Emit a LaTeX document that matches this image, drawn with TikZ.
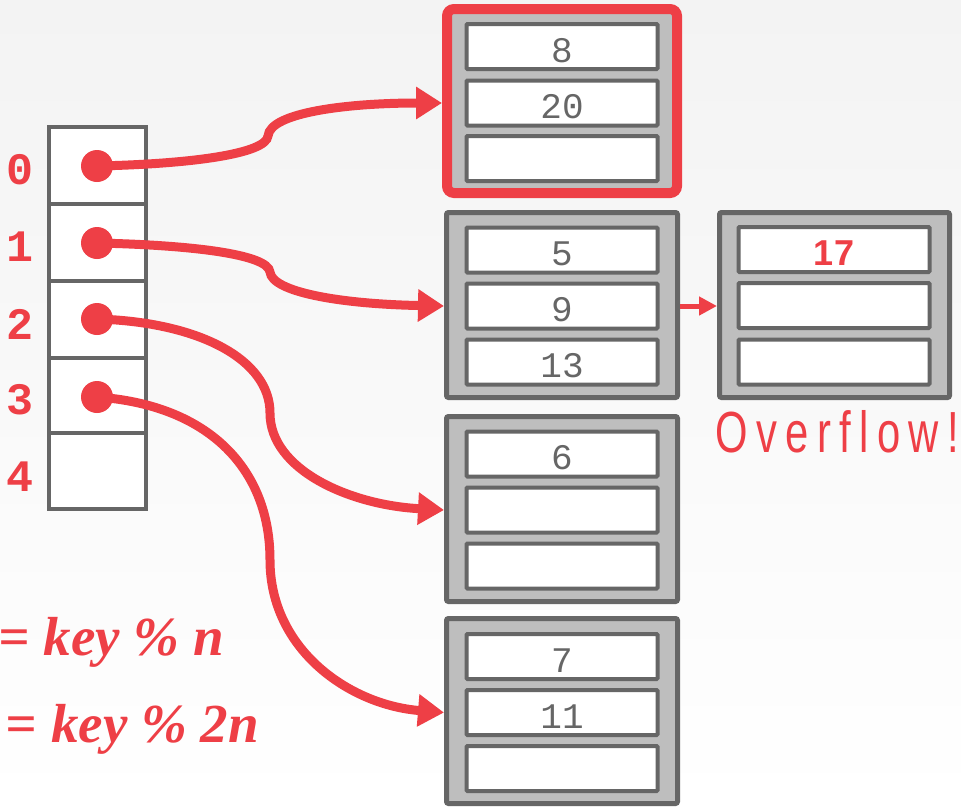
\documentclass[tikz,border=0pt]{standalone}
\usepackage{fontspec}
\usetikzlibrary{arrows.meta}
\setmainfont{Liberation Sans}
\newfontfamily\monofont{Liberation Mono}
\newfontfamily\ovfont{Liberation Sans}[FakeStretch=0.72,LetterSpace=14.5]
\newfontfamily\formfont{Liberation Serif}
\definecolor{myred}{HTML}{EE3F46}
\definecolor{bordergray}{HTML}{666666}
\definecolor{fillgray}{HTML}{BEBEBE}
\definecolor{bgtop}{HTML}{F3F3F3}
\begin{document}
\begin{tikzpicture}[x=1pt,y=-1pt,
  cell/.style={draw=bordergray,line width=4pt,fill=white,minimum width=97pt,inner sep=0pt},
  dot/.style={circle,fill=myred,minimum size=32pt,inner sep=0pt},
  idx/.style={text=myred,font=\monofont\bfseries\fontsize{45}{45}\selectfont,inner sep=0pt},
  bucket/.style={draw=bordergray,line width=5pt,fill=fillgray,minimum width=231pt,minimum height=185pt,rounded corners=2pt,inner sep=0pt},
  redbucket/.style={draw=myred,line width=10pt,fill=fillgray,minimum width=230pt,minimum height=184pt,rounded corners=7pt,inner sep=0pt},
  slot/.style={draw=bordergray,line width=4pt,fill=white,minimum width=191pt,minimum height=45pt,inner sep=0pt,rounded corners=1pt,
    text=bordergray,font=\monofont\fontsize{36}{36}\selectfont,text height=31pt,text depth=0pt},
  arr/.style={draw=myred,line width=9pt,-{Triangle[length=26pt,width=31pt]}},
  smallarr/.style={draw=myred,line width=5pt,-{Triangle[length=18pt,width=18pt]}},
  form/.style={text=myred,font=\formfont\bfseries\itshape\fontsize{55}{55}\selectfont,inner sep=0pt,anchor=base east},
  ovtext/.style={text=myred,font=\ovfont\fontsize{58}{58}\selectfont,inner sep=0pt,anchor=base west}
]
\shade[top color=bgtop,bottom color=white] (0,0) rectangle (961,806);
\useasboundingbox (0,0) rectangle (961,806);
\clip (0,0) rectangle (961,806);

% hash table cells
\node[cell,minimum height=77pt] (c0) at (97.5,165.5) {};
\node[cell,minimum height=77pt] (c1) at (97.5,242.5) {};
\node[cell,minimum height=77pt] (c2) at (97.5,319.5) {};
\node[cell,minimum height=75pt] (c3) at (97.5,395.5) {};
\node[cell,minimum height=76pt] (c4) at (97.5,471) {};

% index labels
\node[idx] (l0) at (20,170) {0};
\node[idx] (l1) at (20,247) {1};
\node[idx] (l2) at (20,324) {2};
\node[idx] (l3) at (20,400) {3};
\node[idx] (l4) at (20,477) {4};

% dots
\node[dot] (d0) at (97,166) {};
\node[dot] (d1) at (97,243) {};
\node[dot] (d2) at (97,319) {};
\node[dot] (d3) at (97,397) {};

% buckets
\node[redbucket] (b0) at (562,101) {};
\node[slot] (s00) at (562,46.5) {8};
\node[slot] (s01) at (562,103) {20};
\node[slot] (s02) at (562,158.5) {};

\node[bucket] (b1) at (562,305) {};
\node[slot] (s10) at (562,250) {5};
\node[slot] (s11) at (562,306) {9};
\node[slot] (s12) at (562,362) {13};

\node[bucket] (b2) at (562,509) {};
\node[slot] (s20) at (562,454) {6};
\node[slot] (s21) at (562,510) {};
\node[slot] (s22) at (562,566) {};

\node[bucket] (b3) at (562,711) {};
\node[slot] (s30) at (562,656.5) {7};
\node[slot] (s31) at (562,712.5) {11};
\node[slot] (s32) at (562,768.5) {};

% overflow bucket
\node[bucket,minimum width=230pt] (ob) at (834.5,305) {};
\node[slot,text=myred,font=\bfseries\fontsize{36}{36}\selectfont] (os0) at (834,249.5) {17};
\node[slot] (os1) at (834,305.5) {};
\node[slot] (os2) at (834,362) {};
\node[ovtext] (ov) at (715,452) {Overflow!};

% formulas
\node[form] (f1) at (224,655) {= key \% n};
\node[form] (f2) at (259,742) {= key \% 2n};

% arrows
\draw[arr] (d0.center) .. controls (190,164) and (266,154) .. (268,136) .. controls (270,112) and (350,103) .. (b0.west |- s01);
\draw[arr] (d1.center) .. controls (190,245) and (268,254) .. (270,272) .. controls (272,292) and (340,304) .. (b1.west |- s11);
\draw[arr] (d2.center) .. controls (200,322) and (270,360) .. (270,413) .. controls (270,470) and (350,505) .. (b2.west |- s21);
\draw[arr] (d3.center) .. controls (210,405) and (270,470) .. (270,560) .. controls (270,650) and (350,705) .. (b3.west |- s31);
\draw[smallarr] (b1.east |- s11) -- (ob.west |- s11);
\end{tikzpicture}
\end{document}
